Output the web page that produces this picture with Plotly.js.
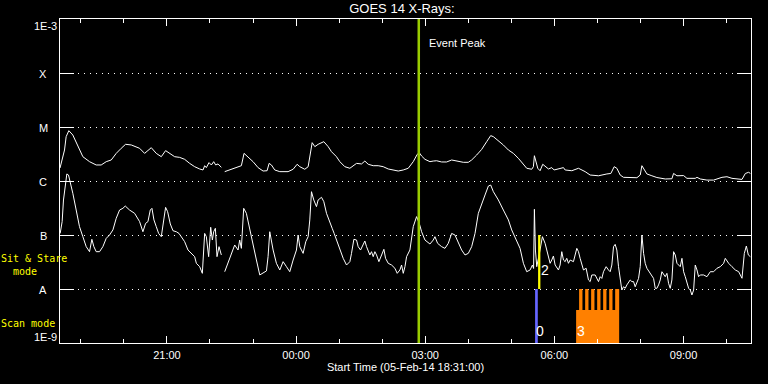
<!DOCTYPE html>
<html>
<head>
<meta charset="utf-8">
<script src="https://cdn.plot.ly/plotly-3.0.1.min.js"></script>
<style>html,body{margin:0;padding:0;background:#000;}#chart{width:768px;height:384px;}</style>
</head>
<body>
<div id="chart"></div>
<script>
// ---- data (time in hours after start 2014-02-05 18:31:00, flux in W/m^2) ----
const startTime = '2014-02-05 18:31:00';
const endHours = 16.05;
const eventPeak = '2014-02-06 02:51:00';

const longT = [0.00,0.105,0.143,0.205,0.298,0.415,0.531,0.686,0.841,0.957,1.074,1.19,1.306,1.422,1.523,1.655,1.849,1.965,2.066,2.12,2.236,2.353,2.453,2.547,2.663,2.779,2.895,3.012,3.128,3.244,3.322,3.36,3.399,3.461,3.516,3.57,3.616,3.671,3.748,3.787,3.826,3.942,4.058,4.213,4.275,4.368,4.484,4.601,4.717,4.81,4.857,4.911,4.988,5.105,5.298,5.415,5.508,5.57,5.686,5.764,5.818,5.857,5.919,5.996,6.128,6.229,6.306,6.422,6.5,6.616,6.733,6.81,6.888,7.004,7.081,7.159,7.275,7.391,7.508,7.624,7.74,7.857,7.973,8.089,8.205,8.298,8.345,8.399,8.477,8.593,8.67,8.748,8.864,8.98,9.097,9.213,9.368,9.484,9.562,9.678,9.795,9.911,10.004,10.066,10.182,10.298,10.415,10.531,10.647,10.764,10.841,10.957,10.996,11.019,11.058,11.097,11.151,11.213,11.345,11.422,11.477,11.616,11.694,11.733,11.888,12.043,12.198,12.314,12.508,12.702,12.795,12.872,12.934,13.012,13.089,13.4,13.477,13.516,13.555,13.632,13.748,13.864,14.058,14.213,14.252,14.33,14.485,14.562,14.756,14.795,14.872,15.027,15.182,15.376,15.492,15.608,15.841,15.919,15.996,16.035];
const longFlux = [1.74e-6,3.75e-6,6.62e-6,8.55e-6,7.11e-6,4.33e-6,2.82e-6,2.28e-6,1.98e-6,1.98e-6,2.28e-6,2.45e-6,3.25e-6,4.03e-6,4.78e-6,4.65e-6,4.03e-6,3.25e-6,3.75e-6,4.14e-6,3.25e-6,2.82e-6,3.65e-6,3.25e-6,2.82e-6,2.74e-6,2.52e-6,2.12e-6,1.84e-6,1.67e-6,1.60e-6,1.92e-6,1.77e-6,2.19e-6,1.98e-6,2.28e-6,1.98e-6,2.07e-6,1.79e-6,null,1.49e-6,1.60e-6,1.77e-6,1.92e-6,3.25e-6,2.82e-6,2.28e-6,1.77e-6,1.53e-6,1.55e-6,2.12e-6,1.98e-6,1.60e-6,1.49e-6,1.49e-6,1.65e-6,2.04e-6,1.84e-6,1.65e-6,1.84e-6,3.03e-6,5.13e-6,4.33e-6,4.78e-6,5.35e-6,4.33e-6,3.49e-6,2.82e-6,2.28e-6,1.84e-6,1.72e-6,1.92e-6,2.12e-6,2.07e-6,2.34e-6,2.04e-6,1.92e-6,1.92e-6,1.84e-6,1.67e-6,1.60e-6,1.53e-6,1.60e-6,1.72e-6,2.28e-6,3.12e-6,3.35e-6,2.90e-6,2.52e-6,2.28e-6,2.34e-6,2.37e-6,2.25e-6,2.25e-6,2.45e-6,2.34e-6,2.22e-6,2.22e-6,2.45e-6,3.03e-6,3.85e-6,5.35e-6,6.92e-6,6.62e-6,5.58e-6,4.65e-6,3.75e-6,3.25e-6,2.63e-6,1.98e-6,1.72e-6,1.65e-6,1.84e-6,2.94e-6,2.28e-6,1.72e-6,1.55e-6,2.04e-6,1.67e-6,1.77e-6,1.60e-6,1.72e-6,1.77e-6,1.60e-6,1.55e-6,1.72e-6,1.49e-6,1.29e-6,1.25e-6,1.35e-6,1.38e-6,1.84e-6,1.72e-6,1.29e-6,1.17e-6,1.15e-6,1.29e-6,1.92e-6,1.72e-6,1.35e-6,1.25e-6,1.16e-6,1.09e-6,1.10e-6,1.38e-6,1.25e-6,1.26e-6,1.12e-6,1.12e-6,1.17e-6,1.09e-6,1.04e-6,1.04e-6,1.17e-6,1.20e-6,1.12e-6,1.07e-6,1.38e-6,1.45e-6,1.38e-6];

const shortT = [0.004,0.05,0.081,0.12,0.159,0.198,0.236,0.298,0.376,0.453,0.531,0.609,0.686,0.74,0.787,0.841,0.919,0.996,1.074,1.151,1.229,1.306,1.384,1.461,1.516,1.616,1.733,1.849,1.926,1.988,2.043,2.097,2.136,2.182,2.236,2.291,2.353,2.391,2.453,2.5,2.562,2.624,2.702,2.764,2.818,2.895,2.973,3.05,3.128,3.167,3.244,3.306,3.337,3.36,3.399,3.453,3.5,3.539,3.57,3.609,3.647,3.694,3.748,3.787,3.826,3.903,3.981,4.058,4.136,4.174,4.213,4.267,4.329,4.407,4.484,4.562,4.64,4.717,4.795,4.833,4.872,4.95,5.027,5.105,5.182,5.26,5.337,5.415,5.492,5.531,5.57,5.647,5.709,5.764,5.802,5.841,5.895,5.957,5.996,6.074,6.128,6.19,6.267,6.322,6.368,6.422,6.5,6.578,6.655,6.733,6.771,6.826,6.888,6.926,6.981,7.043,7.081,7.12,7.198,7.236,7.275,7.314,7.353,7.407,7.469,7.523,7.562,7.624,7.702,7.779,7.833,7.895,7.934,7.973,8.012,8.05,8.128,8.205,8.283,8.345,8.399,8.477,8.593,8.67,8.709,8.771,8.864,8.942,9.019,9.097,9.174,9.252,9.329,9.407,9.484,9.562,9.64,9.717,9.795,9.872,9.95,10.004,10.066,10.182,10.298,10.415,10.492,10.593,10.686,10.764,10.841,10.919,10.973,11.0,11.019,11.043,11.074,11.136,11.205,11.267,11.322,11.384,11.422,11.461,11.5,11.539,11.578,11.616,11.655,11.694,11.733,11.771,11.81,11.849,11.926,12.004,12.043,12.081,12.12,12.159,12.221,12.275,12.314,12.353,12.43,12.508,12.547,12.585,12.624,12.686,12.74,12.779,12.818,12.857,12.895,12.934,12.973,13.012,13.05,13.089,13.128,13.167,13.244,13.283,13.322,13.36,13.438,13.477,13.516,13.555,13.593,13.632,13.71,13.787,13.826,13.864,13.903,13.942,13.981,14.019,14.058,14.097,14.136,14.174,14.213,14.252,14.291,14.33,14.407,14.446,14.485,14.523,14.562,14.601,14.64,14.678,14.717,14.756,14.795,14.833,14.872,14.949,15.027,15.105,15.182,15.26,15.337,15.415,15.453,15.531,15.608,15.686,15.764,15.802,15.841,15.895,15.942,15.988,16.035];
const shortFlux = [1.07e-7,1.77e-7,4.45e-7,8.43e-7,1.35e-6,1.29e-6,9.72e-7,5.92e-7,2.90e-7,1.43e-7,9.31e-8,6.08e-8,4.91e-8,8.32e-8,6.08e-8,4.91e-8,4.91e-8,6.08e-8,8.67e-8,1.0e-7,1.24e-7,2.04e-7,2.90e-7,3.12e-7,3.44e-7,2.90e-7,2.52e-7,1.77e-7,1.15e-7,1.64e-7,1.77e-7,2.90e-7,3.12e-7,1.90e-7,1.43e-7,1.07e-7,9.31e-8,1.43e-7,3.25e-7,2.70e-7,1.60e-7,1.20e-7,1.15e-7,1.07e-7,9.31e-8,7.53e-8,5.27e-8,4.57e-8,3.97e-8,2.99e-8,2.59e-8,1.95e-8,4.57e-8,1.07e-7,9.31e-8,3.97e-8,1.39e-7,8.07e-8,1.15e-7,1.33e-7,3.97e-8,6.08e-8,4.27e-8,null,2.09e-8,2.99e-8,4.57e-8,6.53e-8,5.27e-8,8.07e-8,5.66e-8,3.12e-7,2.52e-7,1.24e-7,7.01e-8,3.44e-8,1.82e-8,2.00e-8,2.16e-8,3.97e-8,1.15e-7,5.27e-8,2.99e-8,2.25e-8,3.21e-8,2.59e-8,2.09e-8,3.44e-8,5.27e-8,1.0e-7,6.08e-8,4.57e-8,7.53e-8,9.31e-8,1.90e-7,6.34e-7,4.45e-7,3.35e-7,4.45e-7,4.99e-7,4.14e-7,2.52e-7,1.64e-7,1.33e-7,1.07e-7,8.07e-8,5.66e-8,3.70e-8,2.78e-8,3.21e-8,4.57e-8,8.32e-8,8.07e-8,6.08e-8,5.27e-8,7.01e-8,7.74e-8,6.08e-8,4.27e-8,4.91e-8,3.97e-8,4.91e-8,4.27e-8,3.21e-8,4.27e-8,5.43e-8,3.70e-8,2.99e-8,2.78e-8,2.42e-8,1.95e-8,2.25e-8,2.78e-8,1.95e-8,2.59e-8,3.97e-8,5.27e-8,1.43e-7,2.19e-7,1.64e-7,1.15e-7,8.07e-8,6.81e-8,8.07e-8,9.31e-8,7.01e-8,6.08e-8,5.66e-8,7.01e-8,1.07e-7,1.0e-7,7.01e-8,5.27e-8,4.27e-8,4.57e-8,6.08e-8,1.07e-7,2.52e-7,3.85e-7,5.51e-7,8.07e-7,8.43e-7,6.34e-7,4.45e-7,2.90e-7,1.90e-7,1.24e-7,8.07e-8,5.66e-8,2.99e-8,2.09e-8,2.25e-8,2.78e-8,2.4e-8,2.99e-7,5.27e-8,2.59e-8,4.57e-8,9.31e-8,7.01e-8,4.57e-8,2.99e-8,3.44e-8,4.08e-8,2.78e-8,2.42e-8,2.25e-8,2.78e-8,4.91e-8,3.44e-8,3.21e-8,3.70e-8,2.99e-8,3.44e-8,3.21e-8,5.66e-8,4.91e-8,3.70e-8,2.78e-8,2.25e-8,2.42e-8,1.47e-8,1.37e-8,1.82e-8,1.82e-8,1.37e-8,1.69e-8,1.57e-8,2.09e-8,2.59e-8,2.25e-8,2.09e-8,2.78e-8,6.08e-8,6.71e-8,5.27e-8,2.59e-8,1.47e-8,9.57e-9,1.10e-8,1.03e-8,1.19e-8,1.47e-8,1.37e-8,1.37e-8,1.10e-8,1.57e-8,2.59e-8,1.0e-7,4.57e-8,2.99e-8,2.42e-8,1.95e-8,1.57e-8,1.03e-8,1.03e-8,1.19e-8,1.47e-8,2.09e-8,1.82e-8,1.69e-8,1.95e-8,1.27e-8,1.03e-8,1.47e-8,4.91e-8,4.26e-8,2.99e-8,2.59e-8,3.70e-8,2.09e-8,1.69e-8,1.27e-8,1.03e-8,9.57e-9,7.74e-9,9.57e-9,2.78e-8,2.25e-8,1.69e-8,1.82e-8,1.82e-8,1.69e-8,2.09e-8,2.09e-8,2.42e-8,2.59e-8,2.99e-8,3.70e-8,2.99e-8,2.59e-8,2.25e-8,2.09e-8,1.82e-8,1.58e-8,4.57e-8,6.25e-8,4.27e-8,3.97e-8];

// observing-mode intervals (hours after start)
const mode0T = [11.035, 11.098];          // scan mode, blue, label "0"
const mode2T = [11.105, 11.158];          // sit & stare, yellow, label "2"
const mode3T = [11.988, 12.988];          // scan mode, orange, label "3"
const mode3TeethStart = [12.058, 12.198, 12.337, 12.477, 12.616, 12.756, 12.895];
const mode3TeethEnd   = [12.135, 12.275, 12.414, 12.554, 12.693, 12.833, 12.988];
const scanBand = [1e-9, 1e-8];
const sitStareBand = [1e-8, 1e-7];
const mode3BlockTop = 4.1e-9;

const yTickVals = [1e-3, 1e-4, 1e-5, 1e-6, 1e-7, 1e-8, 1e-9];
const yTickText = ['1E-3', 'X', 'M', 'C', 'B', 'A', '1E-9'];

// ---- helpers ----
const START_MS = Date.UTC(2014, 1, 5, 18, 31, 0);
function toDate(h) {
  const d = new Date(START_MS + Math.round(h * 3600000));
  return d.toISOString().slice(0, 19).replace('T', ' ');
}
function rect(t0, t1, y0, y1) {
  return {x: [toDate(t0), toDate(t1), toDate(t1), toDate(t0), toDate(t0)], y: [y0, y0, y1, y1, y0]};
}

const traces = [];
traces.push({type: 'scatter', mode: 'lines', x: longT.map(toDate), y: longFlux,
  line: {color: '#ffffff', width: 1}, connectgaps: false, hoverinfo: 'skip'});
traces.push({type: 'scatter', mode: 'lines', x: shortT.map(toDate), y: shortFlux,
  line: {color: '#ffffff', width: 1}, connectgaps: false, hoverinfo: 'skip'});
traces.push({type: 'scatter', mode: 'lines', x: [eventPeak, eventPeak], y: [1e-9, 1e-3],
  line: {color: '#99cc00', width: 2.5}, hoverinfo: 'skip'});

const r0 = rect(mode0T[0], mode0T[1], scanBand[0], scanBand[1]);
traces.push(Object.assign({type: 'scatter', mode: 'lines', fill: 'toself', fillcolor: '#6666ff', line: {width: 0, color: '#6666ff'}, hoverinfo: 'skip'}, r0));
const r2 = rect(mode2T[0], mode2T[1], sitStareBand[0], sitStareBand[1]);
traces.push(Object.assign({type: 'scatter', mode: 'lines', fill: 'toself', fillcolor: '#ffff00', line: {width: 0, color: '#ffff00'}, hoverinfo: 'skip'}, r2));
const r3 = rect(mode3T[0], mode3T[1], scanBand[0], mode3BlockTop);
traces.push(Object.assign({type: 'scatter', mode: 'lines', fill: 'toself', fillcolor: '#ff8000', line: {width: 0, color: '#ff8000'}, hoverinfo: 'skip'}, r3));
const tx = [], ty = [];
mode3TeethStart.forEach((s, i) => {
  const r = rect(s, mode3TeethEnd[i], mode3BlockTop, scanBand[1]);
  tx.push(...r.x, null); ty.push(...r.y, null);
});
traces.push({type: 'scatter', mode: 'lines', fill: 'toself', fillcolor: '#ff8000', line: {width: 0, color: '#ff8000'}, x: tx, y: ty, hoverinfo: 'skip'});

const annotations = [];
yTickVals.forEach((v, i) => {
  const lab = yTickText[i];
  const ann = {xref: 'paper', yref: 'y', x: 0, y: Math.log10(v), text: lab, showarrow: false,
    font: {family: 'Liberation Sans, Arial, sans-serif', size: 11, color: '#ffffff'}};
  if (i === 0) { ann.xanchor = 'right'; ann.xshift = -1; ann.yanchor = 'top'; ann.yshift = 1; }
  else if (i === yTickVals.length - 1) { ann.xanchor = 'right'; ann.xshift = -1; ann.yanchor = 'bottom'; ann.yshift = -2; }
  else { ann.xanchor = 'center'; ann.xshift = -17; ann.yanchor = 'middle'; ann.yshift = -1; }
  annotations.push(ann);
});
const yellowFont = {family: 'DejaVu Sans Mono, monospace', size: 10, color: '#ffff00'};
annotations.push({xref: 'paper', yref: 'y', x: 0, xanchor: 'left', xshift: -61, y: -7.444, yanchor: 'middle', text: 'Sit & Stare', showarrow: false, font: yellowFont});
annotations.push({xref: 'paper', yref: 'y', x: 0, xanchor: 'left', xshift: -49, y: -7.667, yanchor: 'middle', text: 'mode', showarrow: false, font: yellowFont});
annotations.push({xref: 'paper', yref: 'y', x: 0, xanchor: 'left', xshift: -61, y: -8.648, yanchor: 'middle', text: 'Scan mode', showarrow: false, font: yellowFont});
annotations.push({xref: 'x', yref: 'paper', x: eventPeak, xanchor: 'left', xshift: 8, y: 0.926, yanchor: 'middle', text: 'Event Peak', showarrow: false,
  font: {family: 'Liberation Sans, Arial, sans-serif', size: 11, color: '#ffffff'}});
const digitFont = {family: 'Liberation Sans, Arial, sans-serif', size: 14, color: '#ffffff'};
annotations.push({xref: 'x', yref: 'y', x: toDate(mode0T[0]), xanchor: 'left', xshift: -1, y: -9, yanchor: 'bottom', yshift: 2, text: '0', showarrow: false, font: digitFont});
annotations.push({xref: 'x', yref: 'y', x: toDate(mode2T[1]), xanchor: 'left', xshift: -1, y: -8, yanchor: 'bottom', yshift: 9, text: '2', showarrow: false, font: digitFont});
annotations.push({xref: 'x', yref: 'y', x: toDate(mode3T[0]), xanchor: 'left', xshift: -1, y: -9, yanchor: 'bottom', yshift: 2, text: '3', showarrow: false, font: digitFont});

const layout = {
  width: 768, height: 384,
  paper_bgcolor: '#000000', plot_bgcolor: '#000000',
  margin: {l: 60, r: 17, t: 19, b: 41, pad: 0},
  showlegend: false,
  font: {family: 'Liberation Sans, Arial, sans-serif', color: '#ffffff', size: 11},
  title: {text: 'GOES 14 X-Rays:', font: {size: 13, color: '#ffffff'}, xref: 'container', x: 0.5234, xanchor: 'center', yref: 'container', y: 0.977, yanchor: 'middle'},
  xaxis: {
    type: 'date', range: [startTime, toDate(endHours)],
    showline: true, linecolor: '#ffffff', linewidth: 1, mirror: 'ticks',
    ticks: 'inside', ticklen: 7, tickwidth: 1, tickcolor: '#ffffff',
    tickmode: 'linear', tick0: '2014-02-05 21:00:00', dtick: 3 * 3600000, tickformat: '%H:%M',
    minor: {dtick: 3600000, ticks: 'inside', ticklen: 4, tickcolor: '#ffffff', tickwidth: 1, showgrid: false},
    showgrid: false, zeroline: false, ticklabelstandoff: 2,
    tickfont: {size: 11, color: '#ffffff'},
    title: {text: 'Start Time (05-Feb-14 18:31:00)', standoff: 1, font: {size: 11, color: '#ffffff'}}
  },
  yaxis: {
    type: 'log', range: [-9, -3],
    showline: true, linecolor: '#ffffff', linewidth: 1, mirror: 'ticks',
    ticks: 'inside', ticklen: 14, tickwidth: 1, tickcolor: '#ffffff',
    tickmode: 'array', tickvals: yTickVals.slice(1, -1), showticklabels: false,
    showgrid: true, gridcolor: '#ffffff', gridwidth: 1, griddash: '1px,5px', zeroline: false
  },
  annotations: annotations
};

Plotly.newPlot('chart', traces, layout, {staticPlot: true, displayModeBar: false});
</script>
</body>
</html>
